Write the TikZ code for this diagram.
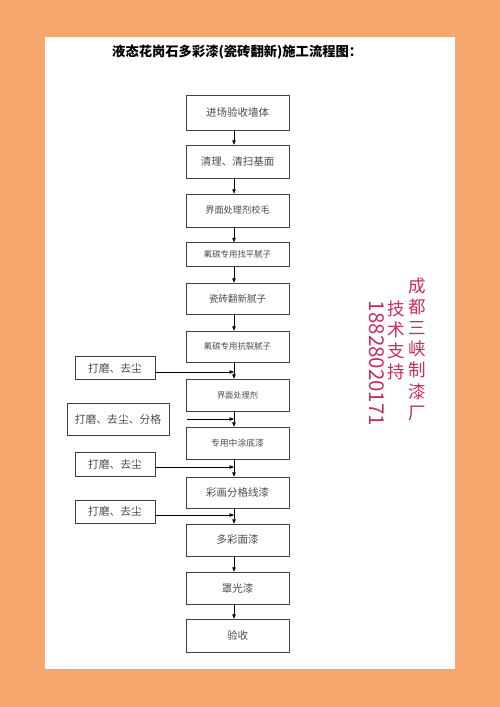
\documentclass[tikz,border=0pt]{standalone}
\usepackage{fontspec}
\usetikzlibrary{arrows.meta, positioning}
\newfontfamily\cjk{Noto Sans CJK SC}
\definecolor{frame-color}{RGB}{245,167,110}
\definecolor{ad-color}{RGB}{200,45,95}
\tikzstyle{stepbox} = [rectangle, draw=black!75, line width=0.5pt, minimum width=103pt, minimum height=32pt, inner sep=0pt, text=black!70, font=\cjk\fontsize{10.5}{12}\selectfont]
\tikzstyle{sidebox} = [rectangle, draw=black!75, line width=0.5pt, minimum width=80pt, minimum height=23pt, inner sep=0pt, text=black!70, font=\cjk\fontsize{10.8}{12}\selectfont]
\tikzstyle{flow} = [line width=0.5pt, -{Triangle[length=4.5pt, width=3.5pt]}]
\tikzstyle{adtext} = [text=ad-color, align=center, inner sep=0pt, font=\cjk\fontsize{17.5}{21.2}\selectfont]

\begin{document}
\begin{tikzpicture}[x=1pt, y=-1pt]
    \useasboundingbox (0, 0) rectangle (500, 707);
    \fill[frame-color] (0, 0) rectangle (500, 707);
    \fill[white] (45, 37) rectangle (455, 669);

    \node[anchor=west, inner sep=0pt, font=\cjk\bfseries\fontsize{13.3}{15}\selectfont] at (112, 52.5) (title) {液态花岗石多彩漆(瓷砖翻新)施工流程图：};

    \coordinate (axis) at (234, 0);

    \node[stepbox, minimum height=35pt] at (237.5, 112.5) (accept) {进场验收墙体};
    \node[stepbox, minimum height=33pt] at (237.5, 161.5) (clean) {清理、清扫基面};
    \node[stepbox, minimum height=33pt, font=\cjk\fontsize{9.2}{11}\selectfont] at (237.5, 210.5) (primer) {界面处理剂校毛};
    \node[stepbox, minimum height=24pt, font=\cjk\fontsize{8.4}{10}\selectfont] at (237.5, 254.5) (levelputty) {氟碳专用找平腻子};
    \node[stepbox, minimum height=31pt, font=\cjk\fontsize{9.5}{11}\selectfont] at (237.5, 298.5) (tileputty) {瓷砖翻新腻子};
    \node[stepbox, minimum height=31pt, font=\cjk\fontsize{8.4}{10}\selectfont] at (237.5, 346.5) (crackputty) {氟碳专用抗裂腻子};
    \node[stepbox, font=\cjk\fontsize{8.2}{10}\selectfont] at (237.5, 395) (interface) {界面处理剂};
    \node[stepbox, font=\cjk\fontsize{8.8}{10}\selectfont] at (237.5, 443) (midcoat) {专用中涂底漆};
    \node[stepbox, minimum height=31pt] at (237.5, 492.5) (linepaint) {彩画分格线漆};
    \node[stepbox] at (237.5, 540) (topcoat) {多彩面漆};
    \node[stepbox] at (237.5, 588) (varnish) {罩光漆};
    \node[stepbox, minimum height=33pt] at (237.5, 635.5) (check) {验收};

    \node[sidebox] at (115, 368) (sand1) {打磨、去尘};
    \node[sidebox, minimum width=102pt, minimum height=32pt] at (118, 419) (sand2) {打磨、去尘、分格};
    \node[sidebox, minimum height=24pt] at (115, 464) (sand3) {打磨、去尘};
    \node[sidebox] at (115, 511.5) (sand4) {打磨、去尘};

    \coordinate (j1) at (234, 372);
    \coordinate (s2) at (187, 419);
    \coordinate (j2) at (234, 419);
    \coordinate (j3) at (234, 467);
    \coordinate (j4) at (234, 515);

    \node[adtext] at (417, 349) (factory) {成\\都\\三\\峡\\制\\漆\\厂};
    \node[adtext] at (396.5, 340.5) (support) {技\\术\\支\\持};
    \node[text=ad-color, inner sep=0pt, rotate=-90, font=\cjk\fontsize{20.5}{22}\selectfont] at (377, 363.5) (phone) {18828020171};

    \draw[flow] (accept.south -| axis) -- (clean.north -| axis);
    \draw[flow] (clean.south -| axis) -- (primer.north -| axis);
    \draw[flow] (primer.south -| axis) -- (levelputty.north -| axis);
    \draw[flow] (levelputty.south -| axis) -- (tileputty.north -| axis);
    \draw[flow] (tileputty.south -| axis) -- (crackputty.north -| axis);
    \draw[flow] (crackputty.south -| axis) -- (interface.north -| axis);
    \draw[flow] (interface.south -| axis) -- (midcoat.north -| axis);
    \draw[flow] (midcoat.south -| axis) -- (linepaint.north -| axis);
    \draw[flow] (linepaint.south -| axis) -- (topcoat.north -| axis);
    \draw[flow] (topcoat.south -| axis) -- (varnish.north -| axis);
    \draw[flow] (varnish.south -| axis) -- (check.north -| axis);

    \draw[flow] (sand1.east |- j1) -- (j1);
    \draw[flow] (s2) -- (j2);
    \draw[flow] (sand3.east |- j3) -- (j3);
    \draw[flow] (sand4.east |- j4) -- (j4);
\end{tikzpicture}
\end{document}
